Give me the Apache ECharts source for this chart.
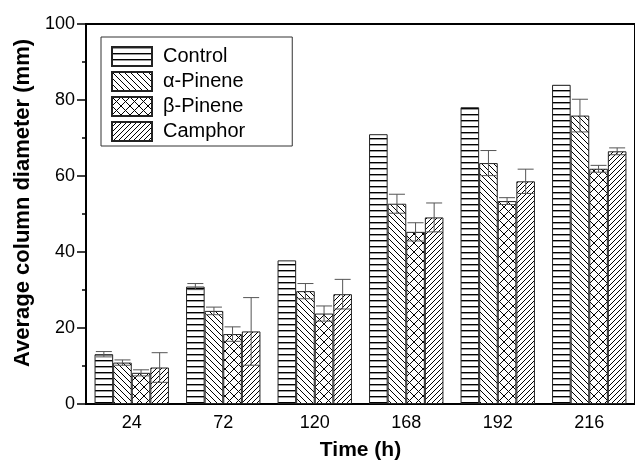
<!DOCTYPE html>
<html>
<head>
<meta charset="utf-8">
<script src="https://cdn.jsdelivr.net/npm/echarts@6/dist/echarts.min.js"></script>
<style>
html, body { margin: 0; padding: 0; background: #fff; }
#chart { width: 635px; height: 466px; }
</style>
</head>
<body>
<div id="chart"></div>
<script>
const times = ['24', '72', '120', '168', '192', '216']
const seriesNames = ['Control', 'α-Pinene', 'β-Pinene', 'Camphor']
const control = [13.1, 30.9, 37.8, 71.0, 78.1, 84.0]
const alphaPinene = [10.9, 24.5, 29.7, 52.7, 63.4, 75.9]
const betaPinene = [8.2, 18.4, 23.8, 45.3, 53.4, 61.9]
const camphor = [9.6, 19.1, 28.9, 49.1, 58.6, 66.5]
const controlErr = [0.7, 0.8, 0, 0, 0, 0]
const alphaErr = [0.7, 1.0, 2.0, 2.5, 3.3, 4.3]
const betaErr = [0.8, 1.9, 2.0, 2.4, 0.9, 0.9]
const camphorErr = [3.9, 8.9, 3.9, 3.8, 3.2, 0.9]

const BAR_W = 18.6
const FONT = '"Liberation Sans", Arial, sans-serif'

// hatch fills, drawn once on small canvases
const makePattern = (size, draw) => {
  const c = document.createElement('canvas')
  c.width = size
  c.height = size
  const ctx = c.getContext('2d')
  ctx.fillStyle = '#fff'
  ctx.fillRect(0, 0, size, size)
  ctx.strokeStyle = '#000'
  ctx.fillStyle = '#000'
  ctx.lineWidth = 1
  draw(ctx, size)
  return { image: c, repeat: 'repeat' }
}
const back = (ctx, s) => {
  ctx.moveTo(-1, -1); ctx.lineTo(s + 1, s + 1)
  ctx.moveTo(-1, s - 1); ctx.lineTo(1, s + 1)
  ctx.moveTo(s - 1, -1); ctx.lineTo(s + 1, 1)
}
const fwd = (ctx, s) => {
  ctx.moveTo(-1, s + 1); ctx.lineTo(s + 1, -1)
  ctx.moveTo(-1, 1); ctx.lineTo(1, -1)
  ctx.moveTo(s - 1, s + 1); ctx.lineTo(s + 1, s - 1)
}
const patterns = [
  makePattern(6, (ctx, s) => { ctx.fillRect(0, 0, s, 1.4) }),
  makePattern(6, (ctx, s) => { ctx.beginPath(); back(ctx, s); ctx.stroke() }),
  makePattern(9, (ctx, s) => { ctx.beginPath(); back(ctx, s); fwd(ctx, s); ctx.stroke() }),
  makePattern(5, (ctx, s) => { ctx.beginPath(); fwd(ctx, s); ctx.stroke() }),
]

const values = [control, alphaPinene, betaPinene, camphor]
const errors = [controlErr, alphaErr, betaErr, camphorErr]

const barSeries = values.map((vals, i) => ({
  name: seriesNames[i],
  type: 'bar',
  data: vals,
  barWidth: BAR_W,
  barGap: '0%',
  itemStyle: { color: patterns[i], borderColor: '#222', borderWidth: 1 },
  emphasis: { disabled: true },
}))

const errSeries = values.map((vals, idx) => ({
  type: 'custom',
  z: 10,
  silent: true,
  data: vals.map((v, i) => [i, v - errors[idx][i], v + errors[idx][i]]),
  renderItem: (params, api) => {
    if (api.value(2) - api.value(1) <= 0) return null
    const lo = api.coord([api.value(0), api.value(1)])
    const hi = api.coord([api.value(0), api.value(2)])
    const cx = lo[0] + (idx - 1.5) * BAR_W
    const half = 8
    const style = { stroke: '#555', lineWidth: 1 }
    return {
      type: 'group',
      children: [
        { type: 'line', shape: { x1: cx, y1: lo[1], x2: cx, y2: hi[1] }, style },
        { type: 'line', shape: { x1: cx - half, y1: hi[1], x2: cx + half, y2: hi[1] }, style },
        { type: 'line', shape: { x1: cx - half, y1: lo[1], x2: cx + half, y2: lo[1] }, style },
      ],
    }
  },
}))

const chart = echarts.init(document.getElementById('chart'))
chart.setOption({
  animation: false,
  textStyle: { fontFamily: FONT },
  grid: {
    left: 86, top: 24, width: 558, height: 381,
    show: true, borderColor: '#000', borderWidth: 2,
  },
  legend: {
    data: seriesNames,
    icon: 'rect',
    orient: 'vertical',
    left: 101,
    top: 37,
    padding: [9, 47, 4, 10],
    itemWidth: 40,
    itemHeight: 19,
    itemGap: 4,
    borderColor: '#333',
    borderWidth: 1,
    selectedMode: false,
    textStyle: { fontSize: 20, color: '#000', padding: [0, 0, 0, 6] },
  },
  xAxis: [
    {
      type: 'category',
      data: times,
      axisLine: { lineStyle: { color: '#000', width: 2 } },
      axisTick: { length: 5, lineStyle: { color: '#000', width: 1.5 } },
      axisLabel: { fontSize: 18, color: '#000', margin: 10 },
      name: 'Time (h)',
      nameLocation: 'middle',
      nameGap: 36,
      nameTextStyle: { fontSize: 21, fontWeight: 'bold', color: '#000' },
    },
    {
      type: 'category',
      data: times,
      position: 'bottom',
      axisLine: { show: false },
      axisTick: { inside: true, length: 3, lineStyle: { color: '#000', width: 1.5 } },
      axisLabel: { show: false },
    },
  ],
  yAxis: {
    type: 'value',
    min: 0,
    max: 100,
    interval: 20,
    axisLine: { show: true, lineStyle: { color: '#000', width: 2 } },
    axisTick: { show: true, length: 9, lineStyle: { color: '#000', width: 1.5 } },
    minorTick: { show: true, splitNumber: 2, length: 4, lineStyle: { color: '#000', width: 1.5 } },
    splitLine: { show: false },
    axisLabel: { fontSize: 18, color: '#000', margin: 11 },
    name: 'Average column diameter (mm)',
    nameLocation: 'middle',
    nameGap: 45,
    nameTextStyle: { fontSize: 22, fontWeight: 'bold', color: '#000', padding: [0, 0, 0, 22] },
  },
  series: [...barSeries, ...errSeries],
})
window.addEventListener('resize', () => chart.resize())
</script>
</body>
</html>
